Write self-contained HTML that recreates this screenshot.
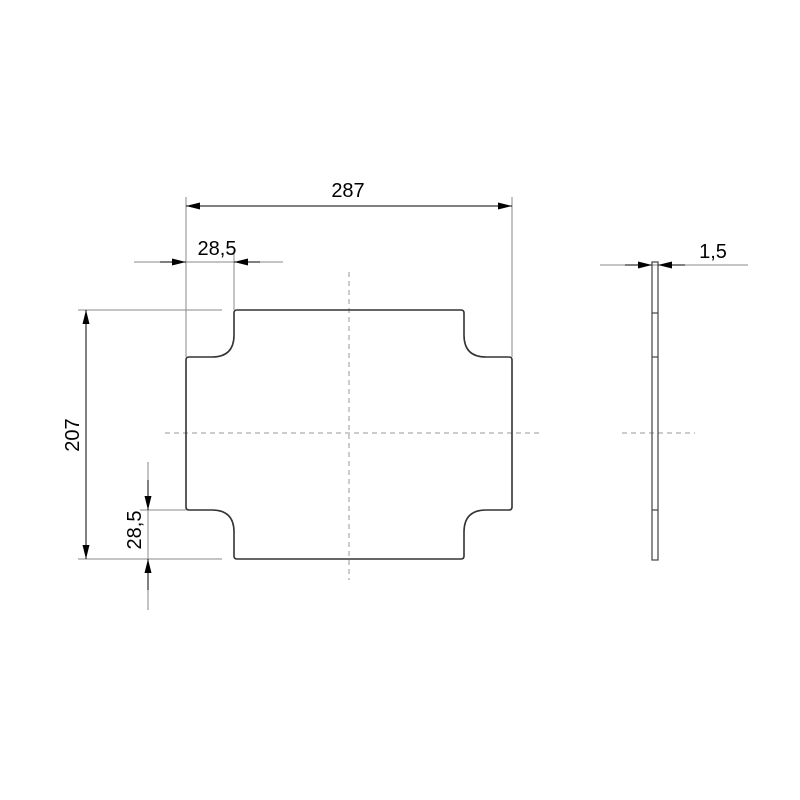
<!DOCTYPE html>
<html><head><style>body{margin:0;background:#fff}svg{display:block}</style></head><body>
<svg width="800" height="800" viewBox="0 0 800 800" xmlns="http://www.w3.org/2000/svg">
<defs>
<marker id="a" viewBox="0 0 14 7" refX="14" refY="3.5" markerWidth="14" markerHeight="7" orient="auto-start-reverse" markerUnits="userSpaceOnUse"><path d="M0,0L14,3.5L0,7z" fill="#000"/></marker>
</defs>
<g stroke="#888" stroke-width="1" fill="none">
<line x1="186" y1="197" x2="186" y2="357"/>
<line x1="512" y1="197" x2="512" y2="357"/>
<line x1="234" y1="250" x2="234" y2="310"/>
<line x1="78" y1="310" x2="222" y2="310"/>
<line x1="78" y1="559" x2="222" y2="559"/>
<line x1="140" y1="510" x2="186" y2="510"/>
<line x1="134" y1="262" x2="283" y2="262"/>
<line x1="148" y1="462" x2="148" y2="610"/>
<line x1="600" y1="265" x2="748" y2="265"/>
</g>
<g stroke="#000" stroke-width="1" fill="none">
<line x1="186" y1="206" x2="512" y2="206" marker-start="url(#a)" marker-end="url(#a)"/>
<line x1="86" y1="310" x2="86" y2="559" marker-start="url(#a)" marker-end="url(#a)"/>
<line x1="160" y1="262" x2="186" y2="262" marker-end="url(#a)"/>
<line x1="260" y1="262" x2="234" y2="262" marker-end="url(#a)"/>
<line x1="148" y1="480" x2="148" y2="510" marker-end="url(#a)"/>
<line x1="148" y1="590" x2="148" y2="559" marker-end="url(#a)"/>
<line x1="625" y1="265" x2="652" y2="265" marker-end="url(#a)"/>
<line x1="685" y1="265" x2="658" y2="265" marker-end="url(#a)"/>
</g>
<g stroke="#999" stroke-width="1" stroke-dasharray="5,4" fill="none">
<line x1="349" y1="272" x2="349" y2="580"/>
<line x1="165" y1="433" x2="540" y2="433"/>
<line x1="622" y1="433" x2="695" y2="433"/>
</g>
<path d="M237,310 H461 Q464,310 464,313 V335 Q464,357 486,357 H509 Q512,357 512,360 V507 Q512,510 509,510 H486 Q464,510 464,532 V556 Q464,559 461,559 H237 Q234,559 234,556 V532 Q234,510 212,510 H189 Q186,510 186,507 V360 Q186,357 189,357 H212 Q234,357 234,335 V313 Q234,310 237,310 Z" fill="none" stroke="#333" stroke-width="1.6"/>
<g stroke="#444" stroke-width="1.2" fill="none">
<rect x="652" y="262" width="6" height="298"/>
<line x1="652" y1="313" x2="658" y2="313"/>
<line x1="652" y1="357" x2="658" y2="357"/>
<line x1="652" y1="510" x2="658" y2="510"/>
</g>
<g font-family="Liberation Sans, sans-serif" font-size="20" fill="#000">
<text x="348" y="197" text-anchor="middle">287</text>
<text x="217" y="255" text-anchor="middle">28,5</text>
<text x="713" y="258" text-anchor="middle">1,5</text>
<text transform="translate(79,435) rotate(-90)" text-anchor="middle">207</text>
<text transform="translate(141,530) rotate(-90)" text-anchor="middle">28,5</text>
</g>
</svg>
</body></html>
